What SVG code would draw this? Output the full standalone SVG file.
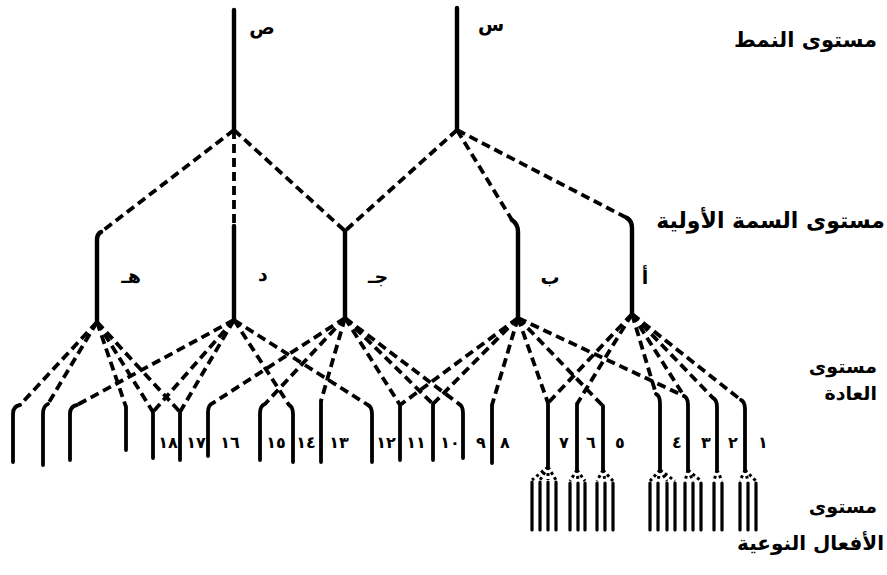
<svg xmlns="http://www.w3.org/2000/svg" width="887" height="575" viewBox="0 0 887 575">
<style>
.solid{fill:none;stroke:#000;stroke-width:4.4;stroke-linecap:round}
.dash{fill:none;stroke:#000;stroke-width:3.8;stroke-dasharray:9 5}
.hab{fill:none;stroke:#000;stroke-width:3.8;stroke-linecap:round}
.act{fill:none;stroke:#000;stroke-width:3.2;stroke-linecap:round}
.fork{fill:none;stroke:#000;stroke-width:3;stroke-dasharray:3 3}
.lvl{font-family:"DejaVu Sans",sans-serif;font-weight:bold;font-size:19px;fill:#000;text-anchor:end}
.let{font-family:"DejaVu Sans",sans-serif;font-weight:bold;font-size:19px;fill:#000;text-anchor:middle}
.num{font-family:"DejaVu Sans",sans-serif;font-weight:bold;font-size:16px;fill:#000;text-anchor:middle}
</style>
<rect width="887" height="575" fill="#fff"/>
<g id="levels">
<text class="lvl" x="877" y="47" style="font-size:21px">مستوى النمط</text>
<text class="lvl" x="885" y="228" style="font-size:22px">مستوى السمة الأولية</text>
<text class="lvl" x="877" y="373">مستوى</text>
<text class="lvl" x="877" y="400">العادة</text>
<text class="lvl" x="877" y="513">مستوى</text>
<text class="lvl" x="884" y="550" style="font-size:20px">الأفعال النوعية</text>
</g>
<g id="type-sad"><path class="solid" d="M234,10 L234,130"/><text class="let" x="262" y="34">ص</text></g>
<g id="type-sin"><path class="solid" d="M457,8 L457,130"/><text class="let" x="491" y="31">س</text></g>
<g id="trait-ha"><path class="solid" d="M101,232 Q97,234 97,240 L97,322"/><text class="let" x="131" y="283">هـ</text></g>
<g id="trait-dal"><path class="solid" d="M234,226 L234,320"/><text class="let" x="263" y="281">د</text></g>
<g id="trait-jim"><path class="solid" d="M345,231 L345,318"/><text class="let" x="378" y="283">جـ</text></g>
<g id="trait-ba"><path class="solid" d="M512,220 Q518,224 518,232 L518,318"/><text class="let" x="550" y="284">ب</text></g>
<g id="trait-alif"><path class="solid" d="M627,218 Q632,221 632,228 L632,314"/><text class="let" x="645" y="284">أ</text></g>
<g id="habits">
<path class="hab" d="M20,405 Q13,406 13,414 L13,462"/>
<path class="hab" d="M48,404 Q43,406 43,414 L43,465"/>
<path class="hab" d="M77,405 Q70,406 70,414 L70,460"/>
<path class="hab" d="M126,407 L126,450"/>
<path class="hab" d="M153,412 L153,458"/>
<path class="hab" d="M180,412 L180,460"/>
<path class="hab" d="M213,403 Q208,405 208,412 L208,456"/>
<path class="hab" d="M265,404 Q260,406 260,413 L260,460"/>
<path class="hab" d="M289,405 Q293,407 293,414 L293,462"/>
<path class="hab" d="M321,401 L321,462"/>
<path class="hab" d="M368,405 Q372,407 372,414 L372,462"/>
<path class="hab" d="M400,405 L400,460"/>
<path class="hab" d="M433,404 L433,460"/>
<path class="hab" d="M459,404 Q463,406 463,413 L463,458"/>
<path class="hab" d="M492,405 L492,463"/>
<path class="hab" d="M548,403 L548,467"/>
<path class="hab" d="M577,404 L577,470"/>
<path class="hab" d="M603,406 L603,470"/>
<path class="hab" d="M656,394 Q660,396 660,403 L660,470"/>
<path class="hab" d="M684,396 Q688,398 688,405 L688,470"/>
<path class="hab" d="M713,398 Q717,400 717,407 L717,470"/>
<path class="hab" d="M741,400 Q745,402 745,409 L745,470"/>
</g>
<g id="habit-labels">
<text class="num" x="168" y="448">١٨</text>
<text class="num" x="196" y="448">١٧</text>
<text class="num" x="230" y="448">١٦</text>
<text class="num" x="276" y="448">١٥</text>
<text class="num" x="306" y="448">١٤</text>
<text class="num" x="339" y="448">١٣</text>
<text class="num" x="386" y="448">١٢</text>
<text class="num" x="416" y="448">١١</text>
<text class="num" x="450" y="448">١٠</text>
<text class="num" x="481" y="448">٩</text>
<text class="num" x="505" y="448">٨</text>
<text class="num" x="564" y="448">٧</text>
<text class="num" x="591" y="448">٦</text>
<text class="num" x="620" y="448">٥</text>
<text class="num" x="677" y="448">٤</text>
<text class="num" x="706" y="448">٣</text>
<text class="num" x="733" y="448">٢</text>
<text class="num" x="763" y="448">١</text>
</g>
<g id="acts">
<path class="fork" d="M548,467 L532,480 M548,467 L540,480 M548,467 L548,480 M548,467 L556,480"/>
<path class="act" d="M532,482 L532,530 M540,482 L540,530 M548,482 L548,530 M556,482 L556,530"/>
<path class="fork" d="M577,470 L570,481 M577,470 L578,481 M577,470 L585,481"/>
<path class="act" d="M570,483 L570,530 M578,483 L578,530 M585,483 L585,530"/>
<path class="fork" d="M603,470 L597,481 M603,470 L605,481 M603,470 L613,481"/>
<path class="act" d="M597,483 L597,530 M605,483 L605,530 M613,483 L613,530"/>
<path class="fork" d="M660,470 L650,481 M660,470 L658,481 M660,470 L667,481 M660,470 L675,481"/>
<path class="act" d="M650,483 L650,530 M658,483 L658,530 M667,483 L667,530 M675,483 L675,530"/>
<path class="fork" d="M688,470 L685,481 M688,470 L693,481 M688,470 L701,481"/>
<path class="act" d="M685,483 L685,530 M693,483 L693,530 M701,483 L701,530"/>
<path class="fork" d="M717,470 L714,481 M717,470 L722,481"/>
<path class="act" d="M714,483 L714,530 M722,483 L722,530"/>
<path class="fork" d="M745,470 L740,481 M745,470 L748,481 M745,470 L756,481"/>
<path class="act" d="M740,483 L740,530 M748,483 L748,530 M756,483 L756,530"/>
</g>
<g id="connectors">
<path class="dash" d="M234,130 L101,232"/>
<path class="dash" d="M234,130 L234,226"/>
<path class="dash" d="M234,130 L345,231"/>
<path class="dash" d="M457,130 L345,231"/>
<path class="dash" d="M457,130 L512,220"/>
<path class="dash" d="M457,130 L627,218"/>
<path class="dash" d="M97,322 L20,405"/>
<path class="dash" d="M97,322 L48,404"/>
<path class="dash" d="M97,322 L126,407"/>
<path class="dash" d="M97,322 L153,412"/>
<path class="dash" d="M97,322 L180,412"/>
<path class="dash" d="M234,320 L77,405"/>
<path class="dash" d="M234,320 L153,412"/>
<path class="dash" d="M234,320 L180,412"/>
<path class="dash" d="M234,320 L289,405"/>
<path class="dash" d="M234,320 L368,405"/>
<path class="dash" d="M345,318 L213,403"/>
<path class="dash" d="M345,318 L265,404"/>
<path class="dash" d="M345,318 L321,401"/>
<path class="dash" d="M345,318 L400,405"/>
<path class="dash" d="M345,318 L433,404"/>
<path class="dash" d="M345,318 L459,404"/>
<path class="dash" d="M518,318 L400,405"/>
<path class="dash" d="M518,318 L433,404"/>
<path class="dash" d="M518,318 L492,405"/>
<path class="dash" d="M518,318 L548,403"/>
<path class="dash" d="M518,318 L603,406"/>
<path class="dash" d="M518,318 L684,396"/>
<path class="dash" d="M632,314 L548,403"/>
<path class="dash" d="M632,314 L577,404"/>
<path class="dash" d="M632,314 L656,394"/>
<path class="dash" d="M632,314 L684,396"/>
<path class="dash" d="M632,314 L713,398"/>
<path class="dash" d="M632,314 L741,400"/>
</g>
</svg>
